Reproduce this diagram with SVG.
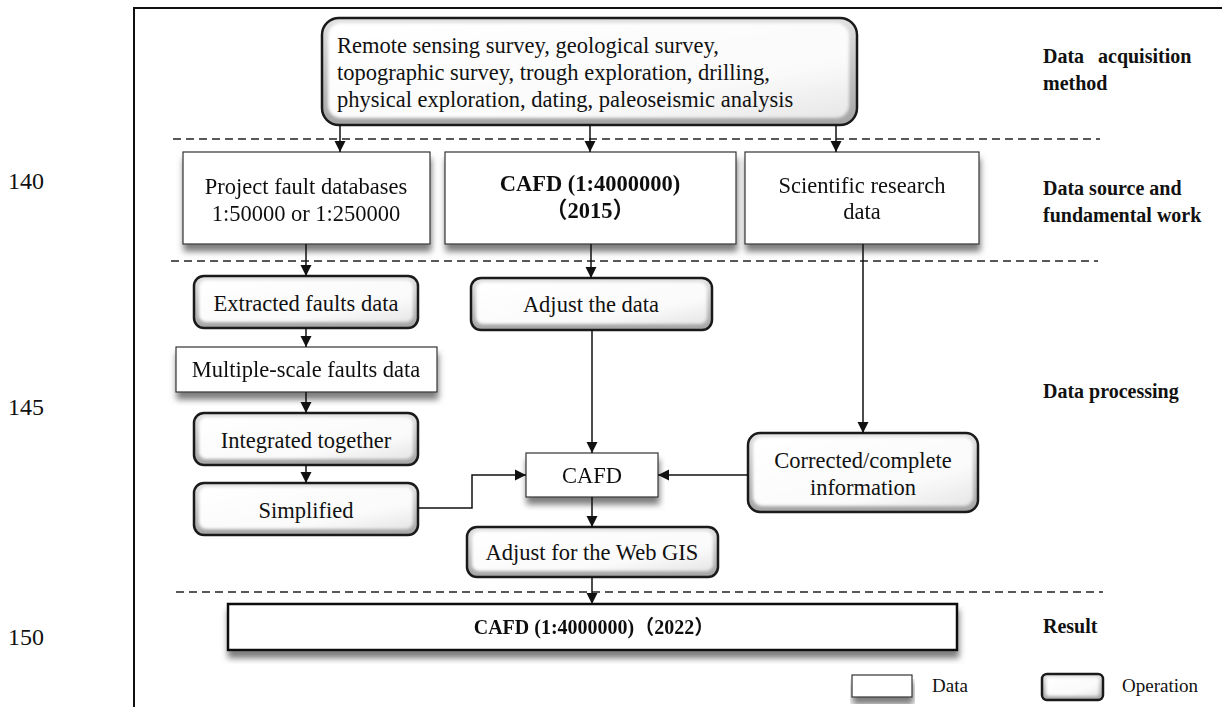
<svg xmlns="http://www.w3.org/2000/svg" width="1222" height="707" viewBox="0 0 1222 707">
<style>
  .t { font-family: "Liberation Serif", "Noto Sans CJK SC", serif; font-size: 22.5px; fill: #111; text-anchor: middle; }
  .ts { text-anchor: start; }
  .b { font-weight: bold; }
  .lbl { font-family: "Liberation Serif", serif; font-size: 20px; font-weight: bold; fill: #111; }
  .num { font-family: "Liberation Serif", serif; font-size: 24px; fill: #111; }
  .leg { font-family: "Liberation Serif", serif; font-size: 19px; fill: #111; }
  .data { fill: #fff; stroke: #333; stroke-width: 1.2; }
  .res { fill: #fff; stroke: #111; stroke-width: 2.5; }
  .opo { fill: url(#opOuter); }
  .opi { fill: url(#opInner); filter: url(#soft); }
  .ops { fill: none; stroke: #1a1a1a; stroke-width: 2.5; }
  .conn { fill: none; stroke: #111; stroke-width: 1.5; marker-end: url(#arr); }
  .dash { fill: none; stroke: #222; stroke-width: 1.5; stroke-dasharray: 8 5; }
  .frame { fill: none; stroke: #111; stroke-width: 2; }
</style>
<defs>
  <marker id="arr" viewBox="0 0 10 10" refX="10" refY="5" markerUnits="userSpaceOnUse" markerWidth="11" markerHeight="12" orient="auto">
    <path d="M0,0 L10,5 L0,10 z" fill="#111"/>
  </marker>
  <linearGradient id="opOuter" x1="0" y1="0" x2="0" y2="1">
    <stop offset="0" stop-color="#e2e2e2"/>
    <stop offset="1" stop-color="#a4a4a4"/>
  </linearGradient>
  <linearGradient id="opInner" x1="0" y1="0" x2="1" y2="1">
    <stop offset="0" stop-color="#ffffff"/>
    <stop offset="0.7" stop-color="#fafafa"/>
    <stop offset="1" stop-color="#e6e6e6"/>
  </linearGradient>
  <filter id="soft" x="-5%" y="-20%" width="110%" height="140%">
    <feGaussianBlur stdDeviation="1.6"/>
  </filter>
  <filter id="shadow" x="-5%" y="-10%" width="110%" height="140%">
    <feGaussianBlur in="SourceAlpha" stdDeviation="3"/>
    <feOffset dx="1" dy="7" result="ob"/>
    <feFlood flood-color="#6e6e6e" flood-opacity="0.9"/>
    <feComposite in2="ob" operator="in"/>
    <feMerge><feMergeNode/><feMergeNode in="SourceGraphic"/></feMerge>
  </filter>
</defs>
<rect width="1222" height="707" fill="#fff"/>

<g id="frame">
  <path class="frame" d="M134,707 V8 H1222"/>
  <text class="num" x="8" y="189">140</text>
  <text class="num" x="8" y="415">145</text>
  <text class="num" x="8" y="645">150</text>
</g>

<g id="separators">
  <line class="dash" x1="173" y1="139" x2="1100" y2="139"/>
  <line class="dash" x1="171" y1="261" x2="1098" y2="261"/>
  <line class="dash" x1="176" y1="592" x2="1103" y2="592"/>
</g>

<g id="stage-labels">
  <text class="lbl" x="1043" y="63">Data <tspan x="1098">acquisition</tspan></text>
  <text class="lbl" x="1043" y="90">method</text>
  <text class="lbl" x="1043" y="195">Data source and</text>
  <text class="lbl" x="1043" y="222">fundamental work</text>
  <text class="lbl" x="1043" y="398">Data processing</text>
  <text class="lbl" x="1043" y="633">Result</text>
</g>

<g id="n-methods">
  <rect class="opo" x="322" y="18" width="535" height="107" rx="17"/>
  <rect class="opi" x="328" y="23" width="521" height="95" rx="13"/>
  <rect class="ops" x="322" y="18" width="535" height="107" rx="17"/>
  <text class="t ts" x="337" y="53">Remote sensing survey, geological survey,</text>
  <text class="t ts" x="337" y="80">topographic survey, trough exploration, drilling,</text>
  <text class="t ts" x="337" y="107">physical exploration, dating, paleoseismic analysis</text>
</g>

<g id="n-project" filter="url(#shadow)">
  <rect class="data" x="183" y="152" width="247" height="92"/>
  <text class="t" x="306" y="194">Project fault databases</text>
  <text class="t" x="306" y="221">1:50000 or 1:250000</text>
</g>

<g id="n-cafd2015" filter="url(#shadow)">
  <rect class="data" x="445" y="152" width="291" height="92"/>
  <text class="t b" x="590" y="191">CAFD (1:4000000)</text>
  <text class="t b" x="590" y="218">（2015）</text>
</g>

<g id="n-scientific" filter="url(#shadow)">
  <rect class="data" x="745" y="152" width="234" height="92"/>
  <text class="t" x="862" y="193">Scientific research</text>
  <text class="t" x="862" y="219">data</text>
</g>

<g id="n-extracted">
  <rect class="opo" x="194" y="276" width="224" height="52" rx="10"/>
  <rect class="opi" x="199" y="280" width="214" height="42" rx="7"/>
  <rect class="ops" x="194" y="276" width="224" height="52" rx="10"/>
  <text class="t" x="306" y="311">Extracted faults data</text>
</g>

<g id="n-adjust">
  <rect class="opo" x="471" y="278" width="241" height="52" rx="10"/>
  <rect class="opi" x="476" y="282" width="231" height="42" rx="7"/>
  <rect class="ops" x="471" y="278" width="241" height="52" rx="10"/>
  <text class="t" x="591" y="312">Adjust the data</text>
</g>

<g id="n-multiscale" filter="url(#shadow)">
  <rect class="data" x="176" y="347" width="261" height="45"/>
  <text class="t" x="306" y="377">Multiple-scale faults data</text>
</g>

<g id="n-integrated">
  <rect class="opo" x="194" y="413" width="224" height="52" rx="10"/>
  <rect class="opi" x="199" y="417" width="214" height="42" rx="7"/>
  <rect class="ops" x="194" y="413" width="224" height="52" rx="10"/>
  <text class="t" x="306" y="448">Integrated together</text>
</g>

<g id="n-simplified">
  <rect class="opo" x="194" y="483" width="224" height="52" rx="10"/>
  <rect class="opi" x="199" y="487" width="214" height="42" rx="7"/>
  <rect class="ops" x="194" y="483" width="224" height="52" rx="10"/>
  <text class="t" x="306" y="518">Simplified</text>
</g>

<g id="n-cafd" filter="url(#shadow)">
  <rect class="data" x="526" y="453" width="132" height="44"/>
  <text class="t" x="592" y="483">CAFD</text>
</g>

<g id="n-corrected">
  <rect class="opo" x="748" y="433" width="230" height="79" rx="12"/>
  <rect class="opi" x="753" y="437" width="220" height="69" rx="9"/>
  <rect class="ops" x="748" y="433" width="230" height="79" rx="12"/>
  <text class="t" x="863" y="468">Corrected/complete</text>
  <text class="t" x="863" y="495">information</text>
</g>

<g id="n-webgis">
  <rect class="opo" x="467" y="527" width="251" height="50" rx="10"/>
  <rect class="opi" x="472" y="531" width="241" height="40" rx="7"/>
  <rect class="ops" x="467" y="527" width="251" height="50" rx="10"/>
  <text class="t" x="592" y="560">Adjust for the Web GIS</text>
</g>

<g id="n-result" filter="url(#shadow)">
  <rect class="res" x="228" y="604" width="729" height="46"/>
  <text class="t b" x="594" y="634" style="font-size:20px">CAFD (1:4000000)（2022）</text>
</g>

<g id="legend">
  <g id="legend-data" filter="url(#shadow)">
    <rect class="data" x="852" y="675" width="60" height="22"/>
  </g>
  <text class="leg" x="932" y="692">Data</text>
  <g id="legend-op">
    <rect class="opo" x="1042" y="674" width="61" height="26" rx="5"/>
    <rect class="opi" x="1046" y="677" width="53" height="19" rx="3"/>
    <rect class="ops" x="1042" y="674" width="61" height="26" rx="5"/>
  </g>
  <text class="leg" x="1122" y="692">Operation</text>
</g>

<g id="connectors">
  <line class="conn" x1="340" y1="125" x2="340" y2="152"/>
  <line class="conn" x1="590" y1="125" x2="590" y2="152"/>
  <line class="conn" x1="836" y1="125" x2="836" y2="152"/>
  <line class="conn" x1="306" y1="244" x2="306" y2="276"/>
  <line class="conn" x1="591" y1="244" x2="591" y2="278"/>
  <line class="conn" x1="863" y1="244" x2="863" y2="433"/>
  <line class="conn" x1="306" y1="328" x2="306" y2="347"/>
  <line class="conn" x1="306" y1="392" x2="306" y2="413"/>
  <line class="conn" x1="306" y1="465" x2="306" y2="483"/>
  <line class="conn" x1="592" y1="330" x2="592" y2="453"/>
  <polyline class="conn" points="418,508 472,508 472,475 526,475"/>
  <line class="conn" x1="748" y1="475" x2="658" y2="475"/>
  <line class="conn" x1="592" y1="497" x2="592" y2="527"/>
  <line class="conn" x1="592" y1="577" x2="592" y2="604"/>
</g>
</svg>
